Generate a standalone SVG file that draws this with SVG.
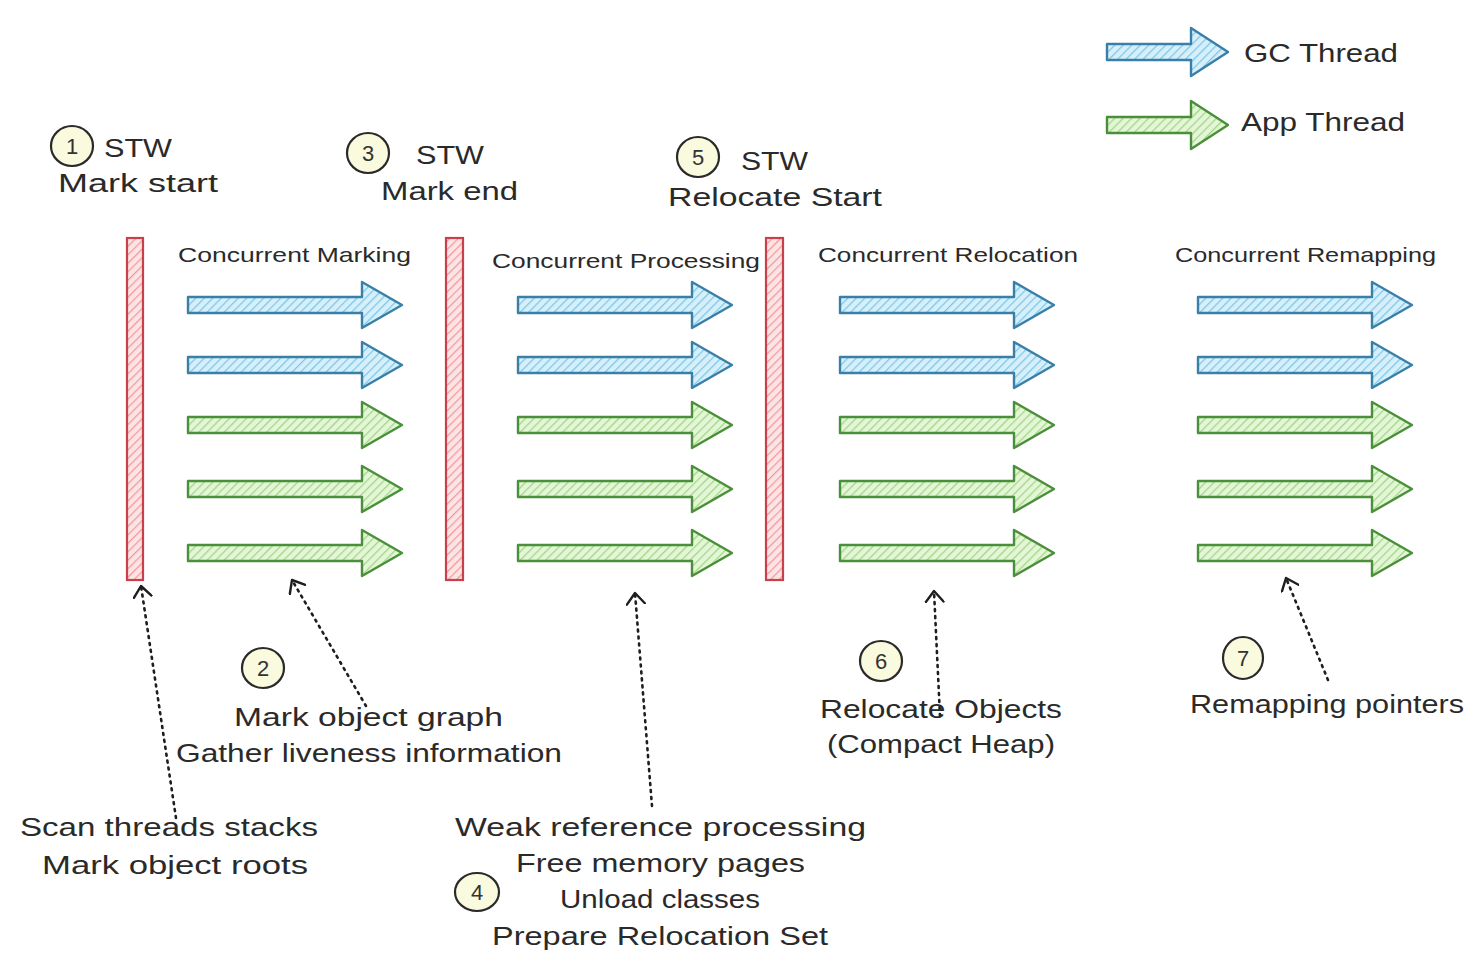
<svg xmlns="http://www.w3.org/2000/svg" width="1476" height="974" viewBox="0 0 1476 974">
<style>
text{font-family:"Liberation Sans","DejaVu Sans",sans-serif;fill:#2a2a2a}
.lbl{font-size:25px}
.sub{font-size:21px}
.num{font-size:22px;text-anchor:middle;fill:#333}
.gc{fill:url(#hb);stroke:#3a7fa8;stroke-width:2.4;stroke-linejoin:round}
.app{fill:url(#hg);stroke:#4a8f3a;stroke-width:2.4;stroke-linejoin:round}
.stw{fill:url(#hr);stroke:#c9404a;stroke-width:2.2}
.badge{fill:#fafade;stroke:#2a2a2a;stroke-width:2.2}
.dot{fill:none;stroke:#1e1e1e;stroke-width:2.6;stroke-dasharray:2 5;stroke-linecap:round}
</style>
<defs>
<pattern id="hb" width="6" height="6" patternUnits="userSpaceOnUse" patternTransform="rotate(45)">
<rect width="6" height="6" fill="#d6f0fb"/><line x1="0" y1="0" x2="0" y2="6" stroke="#80c6e6" stroke-width="2.5"/>
</pattern>
<pattern id="hg" width="6" height="6" patternUnits="userSpaceOnUse" patternTransform="rotate(45)">
<rect width="6" height="6" fill="#e3f6d6"/><line x1="0" y1="0" x2="0" y2="6" stroke="#a4d48a" stroke-width="2.5"/>
</pattern>
<pattern id="hr" width="6" height="6" patternUnits="userSpaceOnUse" patternTransform="rotate(45)">
<rect width="6" height="6" fill="#fde4e4"/><line x1="0" y1="0" x2="0" y2="6" stroke="#ef9a9e" stroke-width="2.5"/>
</pattern>
<path id="arr" d="M0,-8 H174 V-23 L214,0 L174,23 V8 H0 Z"/>
<path id="larr" d="M0,-8 H84 V-24 L121,0 L84,24 V8 H0 Z"/>
<marker id="open" viewBox="-12 -10 14 20" refX="0" refY="0" markerWidth="14" markerHeight="20" markerUnits="userSpaceOnUse" orient="auto">
<path d="M-11,-9 L0,0 L-11,9" fill="none" stroke="#1e1e1e" stroke-width="2.4" stroke-linecap="round" stroke-linejoin="round"/>
</marker>
</defs>
<rect width="1476" height="974" fill="#ffffff"/>

<g id="legend">
<use href="#larr" x="1107" y="52" class="gc"/>
<text class="lbl" x="1244" y="62" textLength="154" lengthAdjust="spacingAndGlyphs">GC Thread</text>
<use href="#larr" x="1107" y="125" class="app"/>
<text class="lbl" x="1241" y="131" textLength="164" lengthAdjust="spacingAndGlyphs">App Thread</text>
</g>

<g id="stw1">
<ellipse class="badge" cx="72" cy="146" rx="21" ry="20"/>
<text class="num" x="72" y="154">1</text>
<text class="lbl" x="104" y="157" textLength="68" lengthAdjust="spacingAndGlyphs">STW</text>
<text class="lbl" x="58" y="192" textLength="160" lengthAdjust="spacingAndGlyphs">Mark start</text>
<rect class="stw" x="127" y="238" width="16" height="342"/>
</g>

<g id="stw3">
<ellipse class="badge" cx="368" cy="153" rx="21" ry="20"/>
<text class="num" x="368" y="161">3</text>
<text class="lbl" x="416" y="164" textLength="68" lengthAdjust="spacingAndGlyphs">STW</text>
<text class="lbl" x="381" y="200" textLength="137" lengthAdjust="spacingAndGlyphs">Mark end</text>
<rect class="stw" x="446" y="238" width="17" height="342"/>
</g>

<g id="stw5">
<ellipse class="badge" cx="698" cy="157" rx="21" ry="20"/>
<text class="num" x="698" y="165">5</text>
<text class="lbl" x="741" y="170" textLength="67" lengthAdjust="spacingAndGlyphs">STW</text>
<text class="lbl" x="668" y="206" textLength="214" lengthAdjust="spacingAndGlyphs">Relocate Start</text>
<rect class="stw" x="766" y="238" width="17" height="342"/>
</g>

<g id="marking">
<text class="sub" x="178" y="262" textLength="233" lengthAdjust="spacingAndGlyphs">Concurrent Marking</text>
<use href="#arr" x="188" y="305" class="gc"/>
<use href="#arr" x="188" y="365" class="gc"/>
<use href="#arr" x="188" y="425" class="app"/>
<use href="#arr" x="188" y="489" class="app"/>
<use href="#arr" x="188" y="553" class="app"/>
</g>

<g id="processing">
<text class="sub" x="492" y="268" textLength="268" lengthAdjust="spacingAndGlyphs">Concurrent Processing</text>
<use href="#arr" x="518" y="305" class="gc"/>
<use href="#arr" x="518" y="365" class="gc"/>
<use href="#arr" x="518" y="425" class="app"/>
<use href="#arr" x="518" y="489" class="app"/>
<use href="#arr" x="518" y="553" class="app"/>
</g>

<g id="relocation">
<text class="sub" x="818" y="262" textLength="260" lengthAdjust="spacingAndGlyphs">Concurrent Relocation</text>
<use href="#arr" x="840" y="305" class="gc"/>
<use href="#arr" x="840" y="365" class="gc"/>
<use href="#arr" x="840" y="425" class="app"/>
<use href="#arr" x="840" y="489" class="app"/>
<use href="#arr" x="840" y="553" class="app"/>
</g>

<g id="remapping">
<text class="sub" x="1175" y="262" textLength="261" lengthAdjust="spacingAndGlyphs">Concurrent Remapping</text>
<use href="#arr" x="1198" y="305" class="gc"/>
<use href="#arr" x="1198" y="365" class="gc"/>
<use href="#arr" x="1198" y="425" class="app"/>
<use href="#arr" x="1198" y="489" class="app"/>
<use href="#arr" x="1198" y="553" class="app"/>
</g>

<g id="connectors">
<path class="dot" d="M176,818 L141,586" marker-end="url(#open)"/>
<path class="dot" d="M366,706 L292,580" marker-end="url(#open)"/>
<path class="dot" d="M652,806 L635,593" marker-end="url(#open)"/>
<path class="dot" d="M940,716 L934,591" marker-end="url(#open)"/>
<path class="dot" d="M1328,680 L1286,578" marker-end="url(#open)"/>
</g>

<g id="note2">
<ellipse class="badge" cx="263" cy="668" rx="21" ry="20"/>
<text class="num" x="263" y="676">2</text>
<text class="lbl" x="234" y="726" textLength="269" lengthAdjust="spacingAndGlyphs">Mark object graph</text>
<text class="lbl" x="176" y="762" textLength="386" lengthAdjust="spacingAndGlyphs">Gather liveness information</text>
</g>

<g id="note1">
<text class="lbl" x="20" y="836" textLength="298" lengthAdjust="spacingAndGlyphs">Scan threads stacks</text>
<text class="lbl" x="42" y="874" textLength="266" lengthAdjust="spacingAndGlyphs">Mark object roots</text>
</g>

<g id="note4">
<ellipse class="badge" cx="477" cy="892" rx="22" ry="19"/>
<text class="num" x="477" y="900">4</text>
<text class="lbl" x="455" y="836" textLength="411" lengthAdjust="spacingAndGlyphs">Weak reference processing</text>
<text class="lbl" x="516" y="872" textLength="289" lengthAdjust="spacingAndGlyphs">Free memory pages</text>
<text class="lbl" x="560" y="908" textLength="200" lengthAdjust="spacingAndGlyphs">Unload classes</text>
<text class="lbl" x="492" y="945" textLength="336" lengthAdjust="spacingAndGlyphs">Prepare Relocation Set</text>
</g>

<g id="note6">
<ellipse class="badge" cx="881" cy="661" rx="21" ry="20"/>
<text class="num" x="881" y="669">6</text>
<text class="lbl" x="820" y="718" textLength="242" lengthAdjust="spacingAndGlyphs">Relocate Objects</text>
<text class="lbl" x="827" y="753" textLength="228" lengthAdjust="spacingAndGlyphs">(Compact Heap)</text>
</g>

<g id="note7">
<ellipse class="badge" cx="1243" cy="658" rx="20" ry="21"/>
<text class="num" x="1243" y="666">7</text>
<text class="lbl" x="1190" y="713" textLength="274" lengthAdjust="spacingAndGlyphs">Remapping pointers</text>
</g>
</svg>
